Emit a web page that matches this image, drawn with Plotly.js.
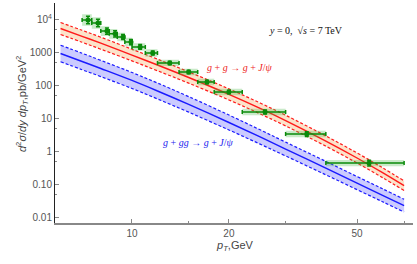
<!DOCTYPE html>
<html><head><meta charset="utf-8">
<script src="https://cdn.plot.ly/plotly-3.0.1.min.js"></script>
<style>html,body{margin:0;padding:0;background:#fff}</style>
</head><body>
<div id="chart" style="width:417px;height:264px"></div>
<script>
// theory curves
const ptGrid      = [6, 7, 8, 10, 12, 15, 20, 25, 30, 40, 50, 60, 70];
const redCentral  = [5525, 3207, 1982, 864, 433, 181, 55.6, 20.9, 8.95, 2.14, 0.658, 0.236, 0.0953];
const redUpper    = [8400, 4870, 3010, 1300, 650, 268, 81.7, 30.5, 13.0, 3.06, 0.934, 0.333, 0.133];
const redLower    = [3630, 2110, 1304, 576, 289, 122, 37.8, 14.3, 6.17, 1.50, 0.463, 0.167, 0.068];
const blueCentral = [966, 553, 339, 147, 70.5, 27.7, 7.83, 2.85, 1.23, 0.325, 0.114, 0.0488, 0.0236];
const blueUpper   = [1720, 984, 597, 257, 123, 47.6, 13.2, 4.70, 1.99, 0.52, 0.180, 0.0766, 0.0368];
const blueLower   = [543, 311, 193, 84, 40.5, 16.1, 4.66, 1.73, 0.76, 0.203, 0.0722, 0.0311, 0.0151];

// data points
const binLo  = [7, 7.5, 8, 8.5, 9, 9.5, 10, 11, 12, 14, 16, 18, 22, 30, 40];
const binHi  = [7.5, 8, 8.5, 9, 9.5, 10, 11, 12, 14, 16, 18, 22, 30, 40, 70];
const dataPt = [7.3, 7.84, 8.36, 8.86, 9.38, 9.93, 10.6, 11.6, 13.1, 15.0, 17.1, 20.0, 25.9, 34.9, 54.5];
const dataY  = [10000, 8100, 4600, 3800, 3050, 2150, 1520, 1000, 500, 265, 132, 66, 16.3, 3.5, 0.46];
const statFactor = [1.3, 1.3, 1.25, 1.25, 1.2, 1.2, 1.18, 1.15, 1.13, 1.13, 1.13, 1.13, 1.15, 1.18, 1.22];
const sysFactor  = [1.5, 1.5, 1.4, 1.4, 1.35, 1.35, 1.3, 1.3, 1.25, 1.25, 1.25, 1.25, 1.25, 1.25, 1.25];

// ticks
const xTickVals = [10, 20, 50];
const xTickText = ['10', '20', '50'];
const xMinorVals = [15, 30, 70];
const yTickVals = [0.01, 0.1, 1, 10, 100, 1000, 10000];
const yTickText = ['0.01', '0.10', '1', '10', '100', '1000', '10<sup>4</sup>'];
const yMinorVals = [0.05, 0.5, 5, 50, 500, 5000];

const RED = '#ff1a1a', BLUE = '#1a1aff';
const dashPat = '3px,2px';

const traces = [];
function band(lower, upper, central, col, fill) {
  traces.push({x: ptGrid, y: lower, mode: 'lines', line: {color: col, width: 1.2, dash: dashPat, shape: 'spline'}, hoverinfo: 'skip'});
  traces.push({x: ptGrid, y: upper, mode: 'lines', fill: 'tonexty', fillcolor: fill, line: {color: col, width: 1.2, dash: dashPat, shape: 'spline'}, hoverinfo: 'skip'});
  traces.push({x: ptGrid, y: central, mode: 'lines', line: {color: col, width: 1.4, shape: 'spline'}, hoverinfo: 'skip'});
}
band(redLower, redUpper, redCentral, RED, 'rgba(250,200,150,0.5)');
band(blueLower, blueUpper, blueCentral, BLUE, 'rgba(140,140,255,0.45)');

// systematic boxes
const bx = [], by = [];
for (let i = 0; i < dataPt.length; i++) {
  const lo = dataY[i] / sysFactor[i], hi = dataY[i] * sysFactor[i];
  bx.push(binLo[i], binHi[i], binHi[i], binLo[i], binLo[i], null);
  by.push(lo, lo, hi, hi, lo, null);
}
traces.push({x: bx, y: by, mode: 'lines', fill: 'toself', fillcolor: 'rgba(60,180,60,0.28)', line: {width: 0}, hoverinfo: 'skip'});

// data with stat errors
traces.push({
  x: dataPt, y: dataY, mode: 'markers',
  marker: {color: '#0a8a0a', size: 5},
  error_x: {type: 'data', symmetric: false,
            array: dataPt.map((v, i) => binHi[i] - v),
            arrayminus: dataPt.map((v, i) => v - binLo[i]),
            color: '#0a8a0a', thickness: 1.5, width: 2},
  error_y: {type: 'data', symmetric: false,
            array: dataY.map((v, i) => v * (statFactor[i] - 1)),
            arrayminus: dataY.map((v, i) => v - v / statFactor[i]),
            color: '#0a8a0a', thickness: 1.5, width: 2},
  hoverinfo: 'skip'
});

const xr = [0.7609, 1.8727], yr = [-2.152, 4.515];
const tickFont = {family: 'Liberation Sans, Arial, sans-serif', size: 10, color: '#555'};
const layout = {
  width: 417, height: 264,
  margin: {l: 55, r: 4, t: 3, b: 41},
  paper_bgcolor: '#fff', plot_bgcolor: '#fff',
  showlegend: false,
  xaxis: {type: 'log', range: xr, showgrid: false, zeroline: false,
          showline: true, linecolor: '#888', linewidth: 2,
          ticks: 'inside', ticklen: 4, tickcolor: '#888', tickwidth: 1,
          tickmode: 'array', tickvals: xTickVals, ticktext: xTickText, tickfont: tickFont,
          minor: {tickmode: 'array', tickvals: xMinorVals, ticks: 'inside', ticklen: 2, tickcolor: '#888'}},
  yaxis: {type: 'log', range: yr, showgrid: false, zeroline: false,
          showline: true, linecolor: '#222', linewidth: 1,
          ticks: 'inside', ticklen: 4, tickcolor: '#888', tickwidth: 1,
          tickmode: 'array', tickvals: yTickVals, ticktext: yTickText, tickfont: tickFont,
          minor: {tickmode: 'array', tickvals: yMinorVals, ticks: 'inside', ticklen: 2, tickcolor: '#888'}},
  xaxis2: {type: 'log', range: xr, overlaying: 'x', side: 'top', anchor: 'y',
           showgrid: false, zeroline: false, showline: true, linecolor: '#999', linewidth: 1,
           ticks: 'inside', ticklen: 4, tickcolor: '#999', showticklabels: false,
           tickmode: 'array', tickvals: xTickVals,
           minor: {tickmode: 'array', tickvals: xMinorVals, ticks: 'inside', ticklen: 2, tickcolor: '#999'}},
  yaxis2: {type: 'log', range: yr, overlaying: 'y', side: 'right', anchor: 'x',
           showgrid: false, zeroline: false, showline: true, linecolor: '#999', linewidth: 1,
           ticks: 'inside', ticklen: 4, tickcolor: '#999', showticklabels: false,
           tickmode: 'array', tickvals: yTickVals,
           minor: {tickmode: 'array', tickvals: yMinorVals, ticks: 'inside', ticklen: 2, tickcolor: '#999'}},
  annotations: [
    {xref: 'paper', yref: 'paper', x: 0.81, y: 0.909, showarrow: false,
     text: '<i>y</i> = 0,  √<i>s</i> = 7 TeV',
     font: {family: 'Liberation Serif, Times New Roman, serif', size: 10, color: '#111'}},
    {xref: 'paper', yref: 'paper', x: 0.517, y: 0.741, showarrow: false,
     text: '<i>g</i> + <i>g</i> → <i>g</i> + <i>J</i>/<i>ψ</i>',
     font: {family: 'Liberation Serif, Times New Roman, serif', size: 10, color: '#ee2222'}},
    {xref: 'paper', yref: 'paper', x: 0.40, y: 0.368, showarrow: false,
     text: '<i>g</i> + <i>gg</i> → <i>g</i> + <i>J</i>/<i>ψ</i>',
     font: {family: 'Liberation Serif, Times New Roman, serif', size: 10, color: '#2222ee'}},
    {xref: 'paper', yref: 'paper', x: 0.503, y: -0.145, showarrow: false,
     text: '<i>p</i><sub><i>T</i></sub>,GeV',
     font: {family: 'Liberation Sans, Arial, sans-serif', size: 11, color: '#444'}},
    {xref: 'paper', yref: 'paper', x: -0.12, y: 0.541, showarrow: false, textangle: -90,
     text: '<i>d</i><sup>2</sup><i>σ</i>/<i>dy</i> <i>dp</i><sub><i>T</i></sub>,pb/GeV<sup>2</sup>',
     font: {family: 'Liberation Sans, Arial, sans-serif', size: 11, color: '#444'}}
  ]
};
Plotly.newPlot('chart', traces, layout, {displayModeBar: false, staticPlot: true});
</script>
</body></html>
